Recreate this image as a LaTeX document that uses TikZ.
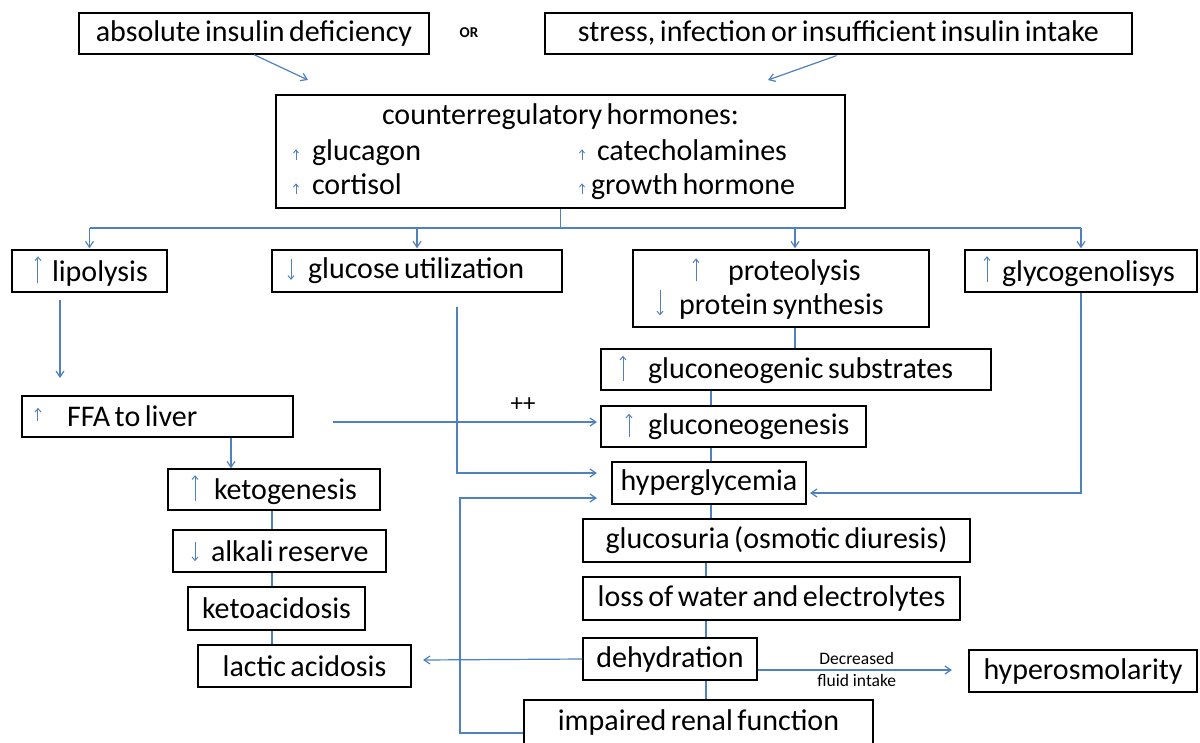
\documentclass[tikz,border=0pt]{standalone}
\usepackage{fontspec}
\setmainfont{Carlito}
\usetikzlibrary{arrows.meta,calc}
\definecolor{lnblue}{HTML}{4F81BD}
% inline blue arrow: from #1 to #2 (pt above baseline)
\newcommand{\tarr}[2]{\tikz[baseline=0pt]{\path (-3.5pt,0pt) (3.5pt,0pt);\draw[lnblue,line width=1pt,-{Straight Barb[length=3.5pt,width=6pt]}] (0pt,#1pt) -- (0pt,#2pt);}}
\newcommand{\sarr}{\tikz[baseline=0pt]{\path (-3pt,0pt) (3pt,0pt);\draw[lnblue,line width=0.9pt,-{Straight Barb[length=3pt,width=5pt]}] (0pt,0pt) -- (0pt,11pt);}}
\newcommand{\boxfont}{\fontsize{30}{34}\selectfont}
\newcommand{\tightsp}{\spaceskip=0.15em plus 0.05em minus 0.02em\relax}
\begin{document}
\begin{tikzpicture}[x=1pt,y=-1pt,
  box/.style={draw=black,line width=1.3pt,inner sep=0pt,font=\boxfont,execute at begin node=\tightsp},
  lbox/.style={box,align=left},
  conn/.style={draw=lnblue,line width=1.2pt},
  arr/.style={conn,-{Straight Barb[length=6pt,width=8pt]}}]
\useasboundingbox (0,0) rectangle (1200,742);

% top row
\node[box,minimum width=350pt,minimum height=41pt] (abs) at (254,33.5) {absolute insulin deficiency};
\node[font=\bfseries\fontsize{15}{17}\selectfont] (or) at (469,33) {OR};
\node[box,minimum width=587pt,minimum height=41pt] (stress) at (838.5,33.5) {stress, infection or insufficient insulin intake};

% counterregulatory hormones
\node[lbox,text width=569pt,minimum height=113pt] (counter) at (560.5,151.5)
 {\makebox[569pt][c]{\tightsp counterregulatory hormones:}\\[2pt]
  \hspace*{17pt}\makebox[286pt][l]{\sarr\hspace{13pt}glucagon}\sarr\hspace{12pt}catecholamines\\
  \hspace*{17pt}\makebox[286pt][l]{\sarr\hspace{13pt}cortisol}\sarr\hspace{6pt}growth\tightsp{} hormone};

% second row
\node[lbox,text width=155pt,minimum height=42pt] (lip) at (89.5,271) {\hspace*{22.5pt}\tarr{-2}{25}\hspace{10.5pt}lipolysis};
\node[lbox,text width=290pt,minimum height=42pt] (gu) at (417,271) {\hspace*{15.5pt}\tarr{20}{-1}\hspace{13.5pt}glucose utilization};
\node[lbox,text width=296pt,minimum height=77pt] (prot) at (781,288.5)
 {\hspace*{59.5pt}\tarr{-1}{22}\hspace{28.5pt}proteolysis\\ \hspace*{23.5pt}\tarr{24}{-1}\hspace{15.5pt}protein synthesis};
\node[lbox,text width=232pt,minimum height=42pt] (glyc) at (1081,271) {\hspace*{18.5pt}\tarr{-1}{25}\hspace{11.5pt}glycogenolisys};

% middle
\node[lbox,text width=271pt,minimum height=41pt] (ffa) at (157.5,416.5) {\hspace*{12.5pt}\tarr{6}{19}\hspace{25.5pt}FFA to liver};
\node[lbox,text width=390pt,minimum height=41pt] (subs) at (796,369.5) {\hspace*{18.5pt}\tarr{-2}{23}\hspace{21.5pt}gluconeogenic substrates};
\node[lbox,text width=265pt,minimum height=41pt] (gneo) at (733.5,426.5) {\hspace*{24.5pt}\tarr{-2}{21}\hspace{15.5pt}gluconeogenesis};
\node[box,minimum width=194pt,minimum height=42pt] (hyper) at (709,483) {hyperglycemia};

% left chain
\node[lbox,text width=212pt,minimum height=41pt] (keto) at (274,489.5) {\hspace*{23.5pt}\tarr{-2}{24}\hspace{15.5pt}ketogenesis};
\node[lbox,text width=213pt,minimum height=42pt] (alk) at (279.5,551) {\hspace*{18.5pt}\tarr{19}{0}\hspace{12.5pt}alkali reserve};
\node[box,minimum width=177pt,minimum height=43pt] (ka) at (276.5,608.5) {ketoacidosis};
\node[box,minimum width=213pt,minimum height=42pt] (lac) at (304.5,666) {lactic acidosis};

% right chain
\node[box,minimum width=387pt,minimum height=43pt] (gsu) at (776.5,540.5) {glucosuria (osmotic diuresis)};
\node[box,minimum width=377pt,minimum height=43pt] (loss) at (771.5,598.5) {loss of water and electrolytes};
\node[box,minimum width=174pt,minimum height=42pt] (dehy) at (670,659) {dehydration};
\node[box,minimum width=349pt,minimum height=45pt] (renal) at (698.5,722.5) {impaired renal function};
\node[box,minimum width=228pt,minimum height=42pt] (hosm) at (1083,671) {hyperosmolarity};

% coordinates
\coordinate (a1) at (308,80);
\coordinate (s1) at (768,80);
\coordinate (bus) at (0,228);
\coordinate (pd) at (795,0);
\coordinate (lp0) at (60,300);
\coordinate (lp1) at (60,378);
\coordinate (g0) at (457,307);
\coordinate (g1) at (597,473);
\coordinate (f0) at (333,422);
\coordinate (f1) at (597,422);
\coordinate (cf) at (231,0);
\coordinate (cx) at (711,0);
\coordinate (cy) at (706,0);
\coordinate (ck) at (272,0);
\coordinate (h1) at (810,493);
\coordinate (lc) at (423,660);
\coordinate (d0) at (0,670);
\coordinate (o1) at (952,670);
\coordinate (rl) at (460,733);
\coordinate (rh) at (597,498);

% connectors
\draw[arr] (abs.south) -- (a1);
\draw[arr] (stress.south) ++(-2,1) -- (s1);
\draw[conn] (counter.south) -- (counter.south |- bus);
\draw[conn] (lip.north |- bus) -- (glyc.north |- bus);
\draw[arr] (lip.north |- bus) -- ([yshift=1pt]lip.north);
\draw[arr] (gu.north |- bus) -- ([yshift=1pt]gu.north);
\draw[arr] (pd |- bus) -- ([yshift=1pt]pd |- prot.north);
\draw[arr] (glyc.north |- bus) -- ([yshift=1pt]glyc.north);

\draw[arr] (lp0) -- (lp1);
\draw[arr] (g0) |- (g1);
\draw[arr] (f0) -- node[pos=0.72,yshift=17pt,font=\fontsize{25}{27}\selectfont] (pp) {++} (f1);
\draw[arr] (cf |- ffa.south) -- (cf |- keto.north);

\draw[conn] (pd |- prot.south) -- (pd |- subs.north);
\draw[conn] (cx |- subs.south) -- (cx |- gneo.north);
\draw[conn] (cx |- gneo.south) -- (cx |- hyper.north);
\draw[conn] (cx |- hyper.south) -- (cx |- gsu.north);
\draw[conn] (cy |- gsu.south) -- (cy |- loss.north);
\draw[conn] (cy |- loss.south) -- (cy |- dehy.north);
\draw[conn] (cy |- dehy.south) -- (cy |- renal.north);

\draw[conn] (ck |- keto.south) -- (ck |- alk.north);
\draw[conn] (ck |- alk.south) -- (ck |- ka.north);
\draw[conn] (ck |- ka.south) -- (ck |- lac.north);

\draw[arr] (glyc.south) |- (h1);
\draw[arr] (dehy.west) -- (lc);
\draw[arr] (dehy.east |- d0) -- node[pos=0.51,yshift=12pt,font=\fontsize{17.5}{19}\selectfont] (dec) {Decreased}
  node[pos=0.51,yshift=-10pt,font=\fontsize{17.5}{19}\selectfont] (fi) {fluid intake} (o1);
\draw[arr] (renal.west |- rl) -- (rl) |- (rh);
\end{tikzpicture}
\end{document}
